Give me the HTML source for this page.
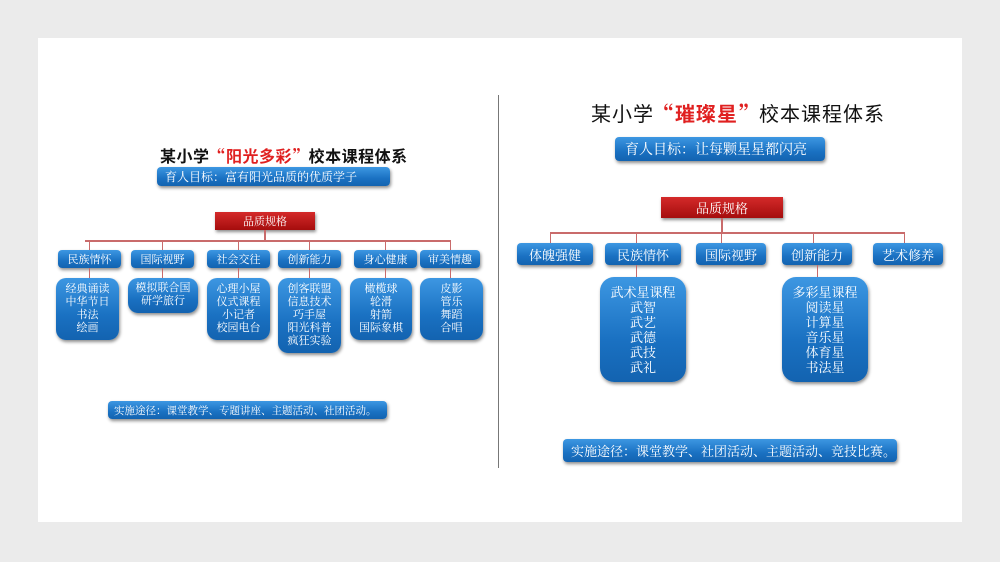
<!DOCTYPE html>
<html><head><meta charset="utf-8"><style>
body{margin:0;width:1000px;height:562px;background:#ebebeb;position:relative;overflow:hidden;font-family:"Liberation Serif","Noto Serif CJK SC",serif;}
.slide{position:absolute;left:38px;top:38px;width:924px;height:484px;background:#fff;}
.b{position:absolute;background:linear-gradient(#3d97e2,#1a71c2 60%,#1363b0);color:#fff;border-radius:4px;box-shadow:1px 2px 3px rgba(0,0,0,.45);display:flex;align-items:center;justify-content:center;text-align:center;box-sizing:border-box;}
.r{position:absolute;background:linear-gradient(#d42a2a,#a50d0d);color:#fff;box-shadow:1px 2px 3px rgba(0,0,0,.45);display:flex;align-items:center;justify-content:center;}
.l{position:absolute;background:#c96b6b;}
.t{position:absolute;font-family:"Liberation Sans","Noto Sans CJK SC",sans-serif;color:#111;white-space:nowrap;}
.t span{color:#e02020;}
.q{font-family:"Noto Serif CJK SC",serif;}
.it{border-radius:10px;line-height:13px;}
</style></head><body>
<div class="slide"></div>
<div style="position:absolute;left:498px;top:95px;width:1px;height:373px;background:#777"></div>

<!-- LEFT -->
<div class="t" style="left:160px;top:143px;font-size:16px;font-weight:bold;letter-spacing:0.5px">某小学<span><b class="q">“</b>阳光多彩<b class="q">”</b></span>校本课程体系</div>
<div class="b" style="left:157px;top:167px;width:233px;height:19px;font-size:12px;justify-content:flex-start;padding-left:8px">育人目标：富有阳光品质的优质学子</div>
<div class="r" style="left:215px;top:212px;width:100px;height:18px;font-size:11px">品质规格</div>
<div class="l" style="left:264px;top:230px;width:2px;height:10px"></div>
<div class="l" style="left:85px;top:240px;width:365px;height:2px"></div>
<div class="l" style="left:89px;top:240px;width:1px;height:10px"></div>
<div class="l" style="left:162px;top:240px;width:1px;height:10px"></div>
<div class="l" style="left:238px;top:240px;width:1px;height:10px"></div>
<div class="l" style="left:309px;top:240px;width:1px;height:10px"></div>
<div class="l" style="left:385px;top:240px;width:1px;height:10px"></div>
<div class="l" style="left:450px;top:240px;width:1px;height:10px"></div>
<div class="b" style="left:58px;top:250px;width:63px;height:18px;font-size:11px">民族情怀</div>
<div class="b" style="left:131px;top:250px;width:63px;height:18px;font-size:11px">国际视野</div>
<div class="b" style="left:207px;top:250px;width:63px;height:18px;font-size:11px">社会交往</div>
<div class="b" style="left:278px;top:250px;width:63px;height:18px;font-size:11px">创新能力</div>
<div class="b" style="left:354px;top:250px;width:63px;height:18px;font-size:11px">身心健康</div>
<div class="b" style="left:420px;top:250px;width:60px;height:18px;font-size:11px">审美情趣</div>
<div class="l" style="left:89px;top:268px;width:1px;height:10px"></div>
<div class="l" style="left:162px;top:268px;width:1px;height:10px"></div>
<div class="l" style="left:238px;top:268px;width:1px;height:10px"></div>
<div class="l" style="left:309px;top:268px;width:1px;height:10px"></div>
<div class="l" style="left:385px;top:268px;width:1px;height:10px"></div>
<div class="l" style="left:450px;top:268px;width:1px;height:10px"></div>
<div class="b it" style="left:56px;top:278px;width:63px;height:62px;font-size:11px">经典诵读<br>中华节日<br>书法<br>绘画</div>
<div class="b it" style="left:128px;top:278px;width:70px;height:35px;font-size:11px;align-items:flex-start;padding-top:4px">模拟联合国<br>研学旅行</div>
<div class="b it" style="left:207px;top:278px;width:63px;height:62px;font-size:11px">心理小屋<br>仪式课程<br>小记者<br>校园电台</div>
<div class="b it" style="left:278px;top:278px;width:63px;height:75px;font-size:11px">创客联盟<br>信息技术<br>巧手屋<br>阳光科普<br>疯狂实验</div>
<div class="b it" style="left:350px;top:278px;width:62px;height:62px;font-size:11px">橄榄球<br>轮滑<br>射箭<br>国际象棋</div>
<div class="b it" style="left:420px;top:278px;width:63px;height:62px;font-size:11px">皮影<br>管乐<br>舞蹈<br>合唱</div>
<div class="b" style="left:108px;top:401px;width:279px;height:18px;font-size:10.5px;justify-content:flex-start;padding-left:6px">实施途径：课堂教学、专题讲座、主题活动、社团活动。</div>

<!-- RIGHT -->
<div class="t" style="left:591px;top:98px;font-size:20px;letter-spacing:1px">某小学<span style="font-weight:bold"><b class="q">“</b>璀璨星<b class="q">”</b></span>校本课程体系</div>
<div class="b" style="left:615px;top:137px;width:210px;height:24px;font-size:14px;justify-content:flex-start;padding-left:10px">育人目标：让每颗星星都闪亮</div>
<div class="r" style="left:661px;top:197px;width:122px;height:21px;font-size:13px">品质规格</div>
<div class="l" style="left:721px;top:218px;width:2px;height:15px"></div>
<div class="l" style="left:550px;top:232px;width:354px;height:2px"></div>
<div class="l" style="left:550px;top:232px;width:1px;height:11px"></div>
<div class="l" style="left:636px;top:232px;width:1px;height:11px"></div>
<div class="l" style="left:721px;top:232px;width:1px;height:11px"></div>
<div class="l" style="left:813px;top:232px;width:1px;height:11px"></div>
<div class="l" style="left:904px;top:232px;width:1px;height:11px"></div>
<div class="b" style="left:517px;top:243px;width:76px;height:22px;font-size:13px">体魄强健</div>
<div class="b" style="left:605px;top:243px;width:76px;height:22px;font-size:13px">民族情怀</div>
<div class="b" style="left:696px;top:243px;width:70px;height:22px;font-size:13px">国际视野</div>
<div class="b" style="left:782px;top:243px;width:70px;height:22px;font-size:13px">创新能力</div>
<div class="b" style="left:873px;top:243px;width:70px;height:22px;font-size:13px">艺术修养</div>
<div class="l" style="left:636px;top:265px;width:1px;height:12px"></div>
<div class="l" style="left:817px;top:265px;width:1px;height:12px"></div>
<div class="b it" style="left:600px;top:277px;width:86px;height:105px;font-size:13px;line-height:15px;border-radius:14px">武术星课程<br>武智<br>武艺<br>武德<br>武技<br>武礼</div>
<div class="b it" style="left:782px;top:277px;width:86px;height:105px;font-size:13px;line-height:15px;border-radius:14px">多彩星课程<br>阅读星<br>计算星<br>音乐星<br>体育星<br>书法星</div>
<div class="b" style="left:563px;top:439px;width:334px;height:23px;font-size:13px;justify-content:flex-start;padding-left:8px">实施途径：课堂教学、社团活动、主题活动、竞技比赛。</div>
</body></html>
